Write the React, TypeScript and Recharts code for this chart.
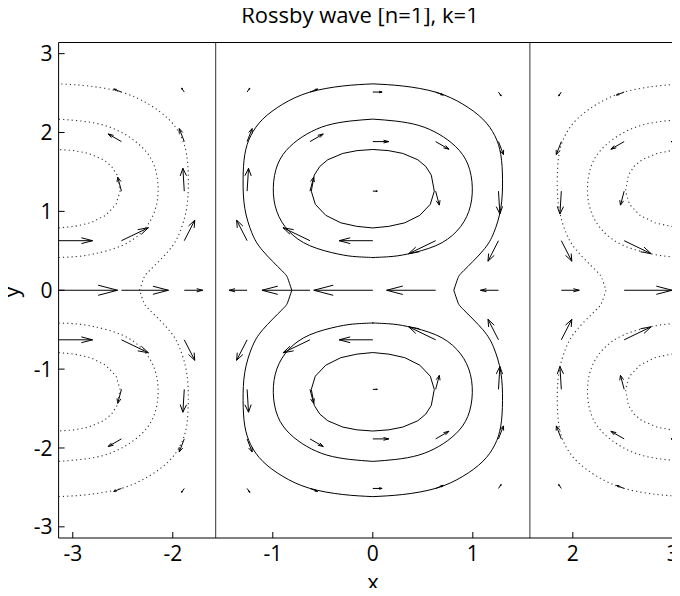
import React from 'react';
import { ScatterChart, Scatter, XAxis, YAxis, ReferenceLine } from 'recharts';

// ---------- axes ----------
const xDomain = [-3.14159, 3.14159];
const yDomain = [-3.14159, 3.14159];
const xTicks = [-3, -2, -1, 0, 1, 2, 3];
const yTicks = [-3, -2, -1, 0, 1, 2, 3];
const dividerX = [-1.5708, 1.5708];
const periodShift = 3.14159;

// ---------- contour traces (upper-left part) ----------
// inner contour around the upper centre: from top (x=0) around the left side to bottom (x=0)
const innerUL = [
  [0, 1.785], [-0.16, 1.77], [-0.3, 1.735], [-0.45, 1.655], [-0.53, 1.57], [-0.585, 1.46],
  [-0.615, 1.257], [-0.575, 1.09], [-0.47, 0.95], [-0.32, 0.855], [-0.16, 0.81], [0, 0.79],
];
const middleUL = [
  [0, 2.17], [-0.23, 2.145], [-0.46, 2.09], [-0.66, 1.98], [-0.83, 1.82], [-0.95, 1.6],
  [-0.995, 1.3], [-0.96, 1.0], [-0.84, 0.75], [-0.63, 0.565], [-0.35, 0.46], [-0.16, 0.425], [0, 0.415],
];
// outer contour: from top (x=0) around the left side down to the saddle on y=0
const outerUL = [
  [0, 2.617], [-0.3, 2.59], [-0.635, 2.51], [-0.9, 2.36], [-1.1, 2.17], [-1.22, 1.96],
  [-1.28, 1.72], [-1.297, 1.4], [-1.28, 1.04], [-1.21, 0.73], [-1.1, 0.5], [-0.91, 0.25],
  [-0.85, 0.15], [-0.81, 0],
];

// ---------- quiver field ----------
const gridX = [-3.14159, -2.5133, -1.885, -1.2566, -0.6283, 0, 0.6283, 1.2566, 1.885, 2.5133, 3.14159];
const gridY = [2.5133, 1.885, 1.2566, 0.6283, 0, -0.6283, -1.2566, -1.885, -2.5133];
const uRow1 = [-0.093, -0.077, -0.027, 0.027, 0.077, 0.093, 0.077, 0.027, -0.027, -0.077, -0.093];
const vRow1 = [0, 0.038, 0.05, 0.05, 0.038, 0, -0.038, -0.05, -0.05, -0.038, 0];
const uRow2 = [-0.16, -0.133, -0.05, 0.05, 0.133, 0.16, 0.133, 0.05, -0.05, -0.133, -0.16];
const vRow2 = [0, 0.097, 0.165, 0.165, 0.097, 0, -0.097, -0.165, -0.165, -0.097, 0];
const uRow3 = [-0.045, -0.037, -0.014, 0.014, 0.037, 0.045, 0.037, 0.014, -0.014, -0.037, -0.045];
const vRow3 = [0, 0.177, 0.29, 0.29, 0.177, 0, -0.177, -0.29, -0.29, -0.177, 0];
const uRow4 = [0.34, 0.27, 0.105, -0.105, -0.27, -0.337, -0.27, -0.105, 0.105, 0.27, 0.34];
const vRow4 = [0, 0.165, 0.26, 0.26, 0.165, 0, -0.165, -0.26, -0.26, -0.165, 0];
const uRow5 = [0.59, 0.47, 0.185, -0.18, -0.48, -0.59, -0.49, -0.18, 0.18, 0.48, 0.59];
const vRow5 = [0, 0, 0, 0, 0, 0, 0, 0, 0, 0, 0];
const uRow6 = [0.34, 0.27, 0.105, -0.105, -0.27, -0.337, -0.27, -0.105, 0.105, 0.27, 0.34];
const vRow6 = [0, -0.165, -0.26, -0.26, -0.165, 0, 0.165, 0.26, 0.26, 0.165, 0];
const uRow7 = [-0.045, -0.037, -0.014, 0.014, 0.037, 0.045, 0.037, 0.014, -0.014, -0.037, -0.045];
const vRow7 = [0, -0.177, -0.29, -0.29, -0.177, 0, 0.177, 0.29, 0.29, 0.177, 0];
const uRow8 = [-0.16, -0.133, -0.05, 0.05, 0.133, 0.16, 0.133, 0.05, -0.05, -0.133, -0.16];
const vRow8 = [0, -0.097, -0.165, -0.165, -0.097, 0, 0.097, 0.165, 0.165, 0.097, 0];
const uRow9 = [-0.093, -0.077, -0.027, 0.027, 0.077, 0.093, 0.077, 0.027, -0.027, -0.077, -0.093];
const vRow9 = [0, -0.038, -0.05, -0.05, -0.038, 0, 0.038, 0.05, 0.05, 0.038, 0];
const uRows = [uRow1, uRow2, uRow3, uRow4, uRow5, uRow6, uRow7, uRow8, uRow9];
const vRows = [vRow1, vRow2, vRow3, vRow4, vRow5, vRow6, vRow7, vRow8, vRow9];

// ---------- helpers ----------
type P = { x: number; y: number };
type Curve = { pts: P[]; type: 'linear' | 'natural' };
const toP = (a: number[][]): P[] => a.map(([x, y]) => ({ x, y }));
const mirX = (a: P[]) => a.map((p) => ({ x: -p.x, y: p.y }));
const mirY = (a: P[]) => a.map((p) => ({ x: p.x, y: -p.y }));
const rev = (a: P[]) => [...a].reverse();
const shift = (a: P[], dx: number) => a.map((p) => ({ x: p.x + dx, y: p.y }));

function buildContours() {
  const solid: Curve[] = [];
  const dotted: Curve[] = [];
  const halves: [number[][], 'linear' | 'natural'][] = [
    [innerUL, 'linear'],
    [middleUL, 'natural'],
  ];
  for (const [half, type] of halves) {
    const ul = toP(half);
    for (const h of [ul, mirY(ul)]) {
      const leftHalf = h;
      const rightHalf = rev(mirX(h));
      solid.push({ pts: [...leftHalf, ...rightHalf], type });
      dotted.push({ pts: shift(rightHalf, -periodShift), type });
      dotted.push({ pts: shift(leftHalf, periodShift), type });
    }
  }
  const o = toP(outerUL);
  const arcs = {
    ul: o,
    ll: rev(mirY(o)),
    lr: mirX(mirY(o)),
    ur: rev(mirX(o)),
  };
  for (const a of [arcs.ul, arcs.ll, arcs.lr, arcs.ur]) solid.push({ pts: a, type: 'natural' });
  for (const a of [arcs.lr, arcs.ur]) dotted.push({ pts: shift(a, -periodShift), type: 'natural' });
  for (const a of [arcs.ul, arcs.ll]) dotted.push({ pts: shift(a, periodShift), type: 'natural' });
  return { solid, dotted };
}

const HEAD_A = 0.33;
const HEAD_B = 0.33;

function buildArrows() {
  const segs: { a: P; b: P }[] = [];
  gridY.forEach((y, j) => {
    gridX.forEach((x, i) => {
      const u = uRows[j][i];
      const v = vRows[j][i];
      if (Math.abs(u) + Math.abs(v) < 1e-6) return;
      const tip = { x: x + u, y: y + v };
      segs.push({ a: { x, y }, b: tip });
      segs.push({ a: tip, b: { x: tip.x - HEAD_A * (u + HEAD_B * v), y: tip.y - HEAD_A * (v - HEAD_B * u) } });
      segs.push({ a: tip, b: { x: tip.x - HEAD_A * (u - HEAD_B * v), y: tip.y - HEAD_A * (v + HEAD_B * u) } });
    });
  });
  return segs;
}

const FONT = "'Open Sans', 'DejaVu Sans', sans-serif";
const TICK_FS = 21;
const X_MARGIN = 8;
const Y_MARGIN = 6;
const TICK_LEN = 6;

const BottomTick = (props: any) => {
  const { x, y, payload } = props;
  return (
    <g>
      <line x1={x} y1={y - X_MARGIN} x2={x} y2={y - X_MARGIN - TICK_LEN} stroke="#000" strokeWidth={1} />
      <text x={x} y={y} dy="0.71em" textAnchor="middle" fontSize={TICK_FS} fontFamily={FONT} fill="#000">
        {String(payload.value)}
      </text>
    </g>
  );
};

const TopTick = (props: any) => {
  const { x, y } = props;
  return <line x1={x} y1={y} x2={x} y2={y + TICK_LEN} stroke="#000" strokeWidth={1} />;
};

const LeftTick = (props: any) => {
  const { x, y, payload } = props;
  return (
    <g>
      <line x1={x + Y_MARGIN} y1={y} x2={x + Y_MARGIN + TICK_LEN} y2={y} stroke="#000" strokeWidth={1} />
      <text x={x} y={y} dy="0.36em" textAnchor="end" fontSize={TICK_FS} fontFamily={FONT} fill="#000">
        {String(payload.value)}
      </text>
    </g>
  );
};

const NoShape = () => <g />;

export default function App() {
  const { solid, dotted } = buildContours();
  const arrows = buildArrows();
  return (
    <div
      style={{
        position: 'relative',
        margin: -8,
        width: 680,
        height: 596,
        overflow: 'hidden',
        background: '#fff',
      }}
    >
      <ScatterChart width={697} height={596} margin={{ top: 0, right: 10, bottom: 0, left: 0 }}>
        <XAxis
          xAxisId={0}
          type="number"
          dataKey="x"
          domain={xDomain}
          allowDataOverflow
          ticks={xTicks}
          interval={0}
          height={58}
          tickSize={0}
          tickMargin={X_MARGIN}
          tickLine={false}
          axisLine={{ stroke: '#000', strokeWidth: 1 }}
          tick={(p: any) => <BottomTick {...p} />}
        />
        <XAxis
          xAxisId="top"
          orientation="top"
          type="number"
          domain={xDomain}
          allowDataOverflow
          ticks={xTicks}
          interval={0}
          height={42.5}
          tickSize={0}
          tickMargin={0}
          tickLine={false}
          axisLine={{ stroke: '#000', strokeWidth: 1 }}
          tick={(p: any) => <TopTick {...p} />}
        />
        <YAxis
          yAxisId={0}
          type="number"
          dataKey="y"
          domain={yDomain}
          allowDataOverflow
          ticks={yTicks}
          interval={0}
          width={58.6}
          tickSize={0}
          tickMargin={Y_MARGIN}
          tickLine={false}
          axisLine={{ stroke: '#000', strokeWidth: 1 }}
          tick={(p: any) => <LeftTick {...p} />}
        />
        {solid.map((c, i) => (
          <Scatter
            key={'s' + i}
            data={c.pts}
            isAnimationActive={false}
            fill="#000"
            shape={NoShape}
            line={{ stroke: '#000', strokeWidth: 1, fill: 'none' }}
            lineType="joint"
            lineJointType={c.type}
          />
        ))}
        {dotted.map((c, i) => (
          <Scatter
            key={'d' + i}
            data={c.pts}
            isAnimationActive={false}
            fill="#000"
            shape={NoShape}
            line={{ stroke: '#333', strokeWidth: 1.1, strokeDasharray: '1.2 3.1', fill: 'none' }}
            lineType="joint"
            lineJointType={c.type}
          />
        ))}
        {dividerX.map((x, i) => (
          <ReferenceLine key={'v' + i} x={x} stroke="#333" strokeWidth={1} ifOverflow="hidden" />
        ))}
        {arrows.map((s, i) => (
          <ReferenceLine
            key={'a' + i}
            segment={[s.a, s.b]}
            stroke="#000"
            strokeWidth={1}
            ifOverflow="hidden"
          />
        ))}
      </ScatterChart>
      <div
        style={{
          position: 'absolute',
          left: 360,
          top: 2.5,
          transform: 'translateX(-50%)',
          fontFamily: FONT,
          fontSize: 22,
          lineHeight: '22px',
          whiteSpace: 'nowrap',
          color: '#000',
        }}
      >
        Rossby wave [n=1], k=1
      </div>
      <div
        style={{
          position: 'absolute',
          left: 373,
          top: 570,
          transform: 'translateX(-50%)',
          fontFamily: FONT,
          fontSize: 22,
          lineHeight: '22px',
          color: '#000',
        }}
      >
        x
      </div>
      <svg
        width={40}
        height={60}
        style={{ position: 'absolute', left: 0, top: 262 }}
      >
        <text
          x={19.3}
          y={30}
          textAnchor="middle"
          fontFamily={FONT}
          fontSize={22}
          fill="#000"
          transform="rotate(-90 19.3 30)"
        >
          y
        </text>
      </svg>
    </div>
  );
}
